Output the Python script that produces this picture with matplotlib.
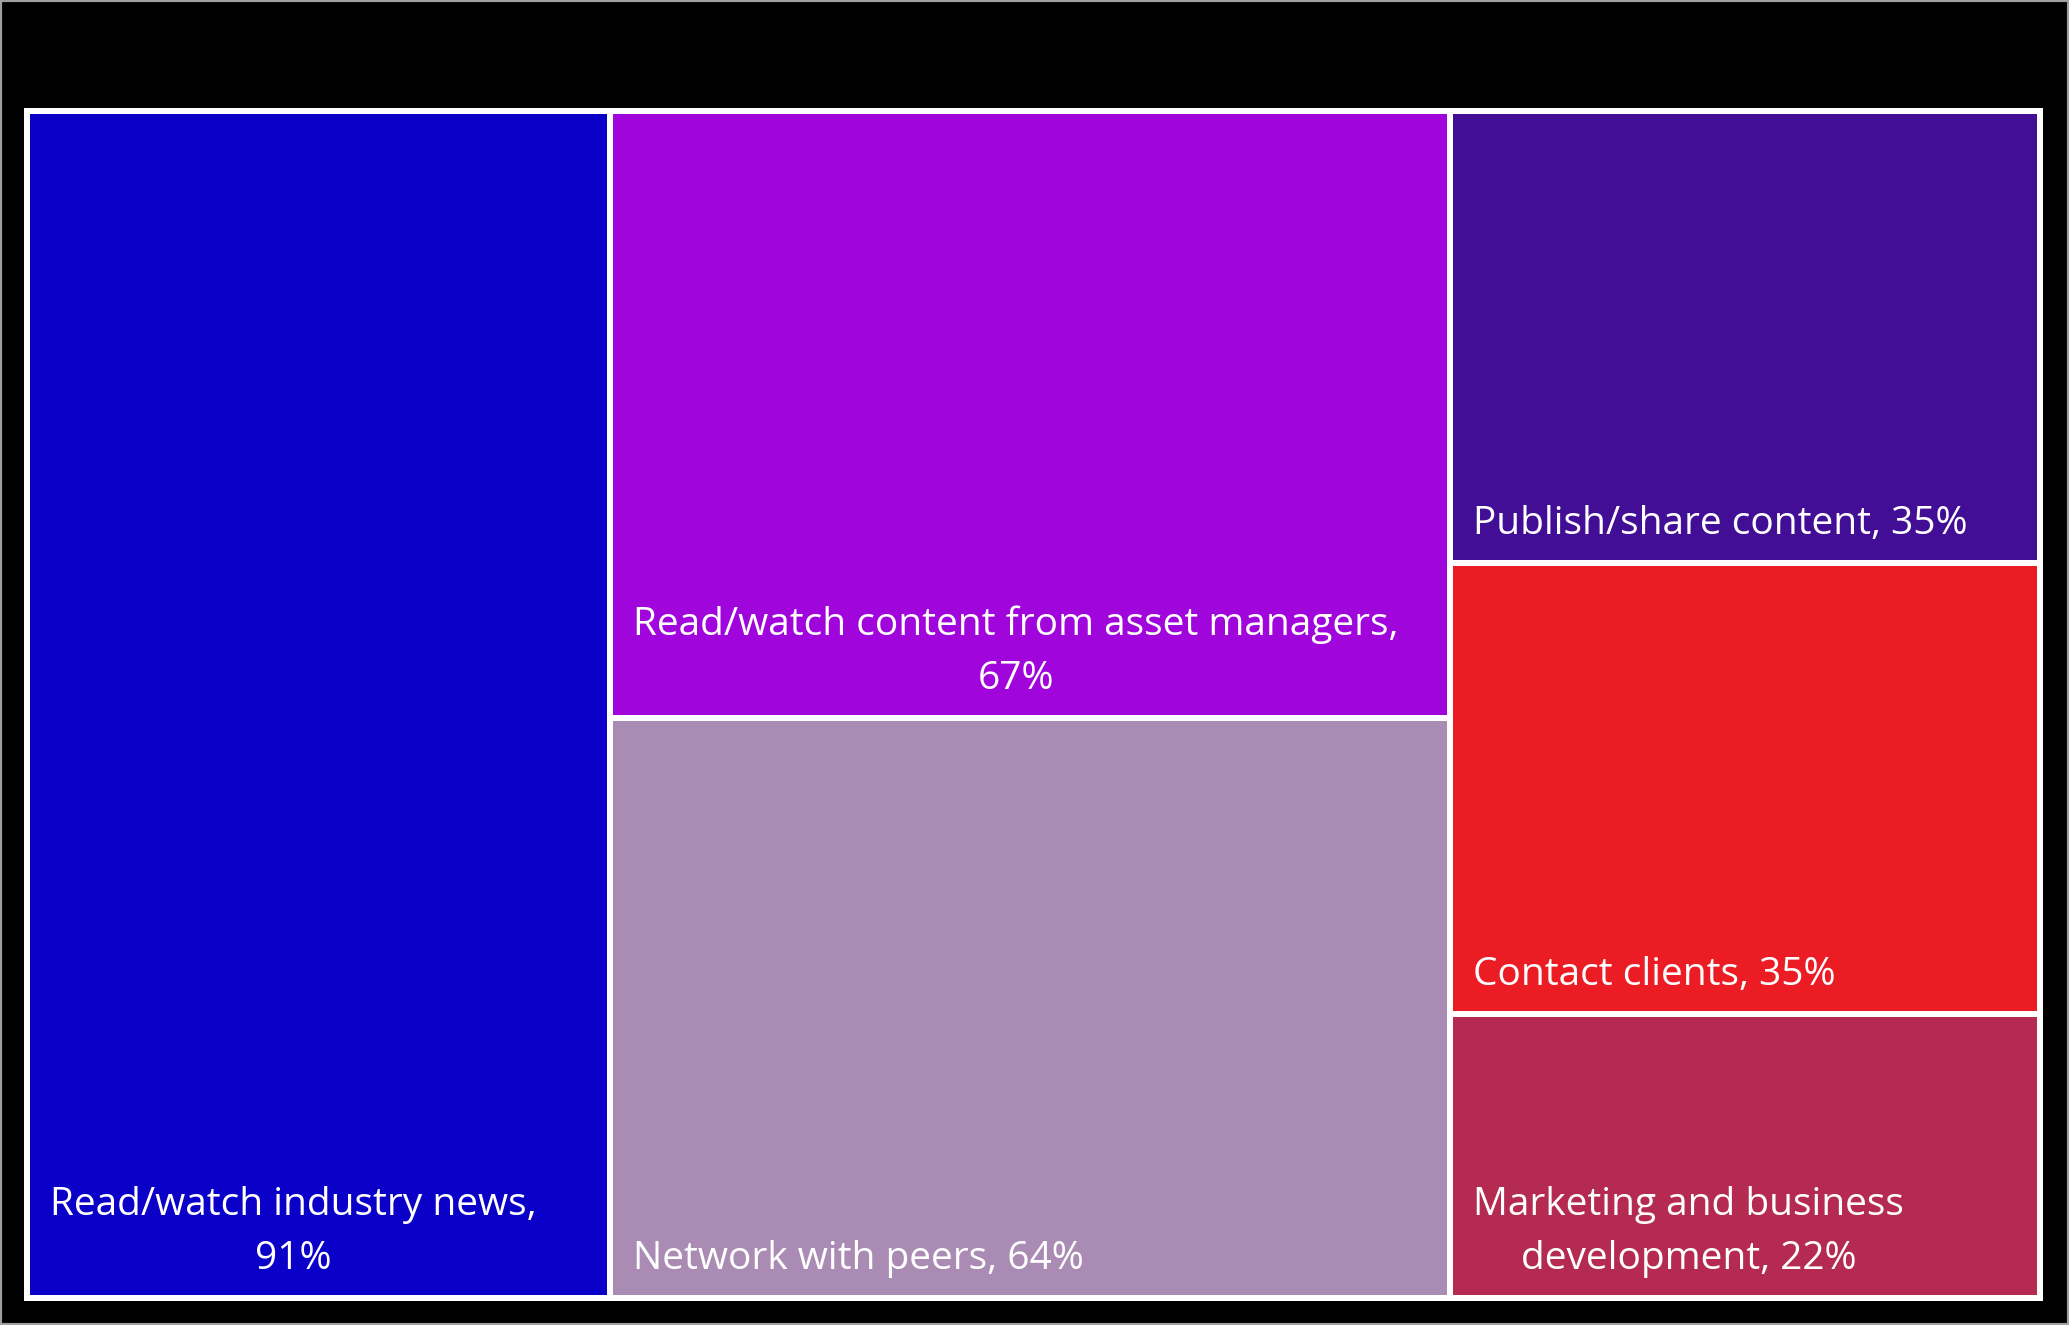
import matplotlib.pyplot as plt
from matplotlib.patches import Rectangle

# treemap data, grouped by column as in the picture
labels = ['Read/watch industry news,\n91%',
          'Read/watch content from asset managers,\n67%',
          'Network with peers, 64%',
          'Publish/share content, 35%',
          'Contact clients, 35%',
          'Marketing and business\ndevelopment, 22%']
values = [91, 67, 64, 35, 35, 22]
columns = [[0], [1, 2], [3, 4, 5]]
colors = ['#0a00c8', '#a005dc', '#a98bb3', '#420e96', '#ec1c24', '#b52a50']

W, H = 2069, 1325
fig = plt.figure(figsize=(W / 100, H / 100), dpi=100, facecolor='black')
ax = fig.add_axes([0, 0, 1, 1])
ax.set_xlim(0, W)
ax.set_ylim(H, 0)
ax.axis('off')

# thin grey border round the picture
fig.patches.append(Rectangle((0, 0), 1, 1, transform=fig.transFigure,
                             fill=False, edgecolor='#a0a0a0', linewidth=3))

# area of the treemap
x0, y0, x1, y1 = 27, 111, 2040, 1298
ax.add_patch(Rectangle((x0 - 3, y0 - 3), x1 - x0 + 6, y1 - y0 + 6,
                       facecolor='white', edgecolor='none'))

total = sum(values)
gap = 3
x = x0
for col in columns:
    csum = sum(values[i] for i in col)
    cw = (x1 - x0) * csum / total
    y = y0
    for i in col:
        ch = (y1 - y0) * values[i] / csum
        ax.add_patch(Rectangle((x + gap, y + gap), cw - 2 * gap, ch - 2 * gap,
                               facecolor=colors[i], edgecolor='none'))
        ax.text(x + gap + 20, y + ch - gap - 17, labels[i], color='white',
                fontsize=28, family='Open Sans', ha='left', va='bottom',
                multialignment='center', linespacing=1.55)
        y += ch
    x += cw

plt.savefig('out.png', dpi=100, facecolor='black')
plt.close()
